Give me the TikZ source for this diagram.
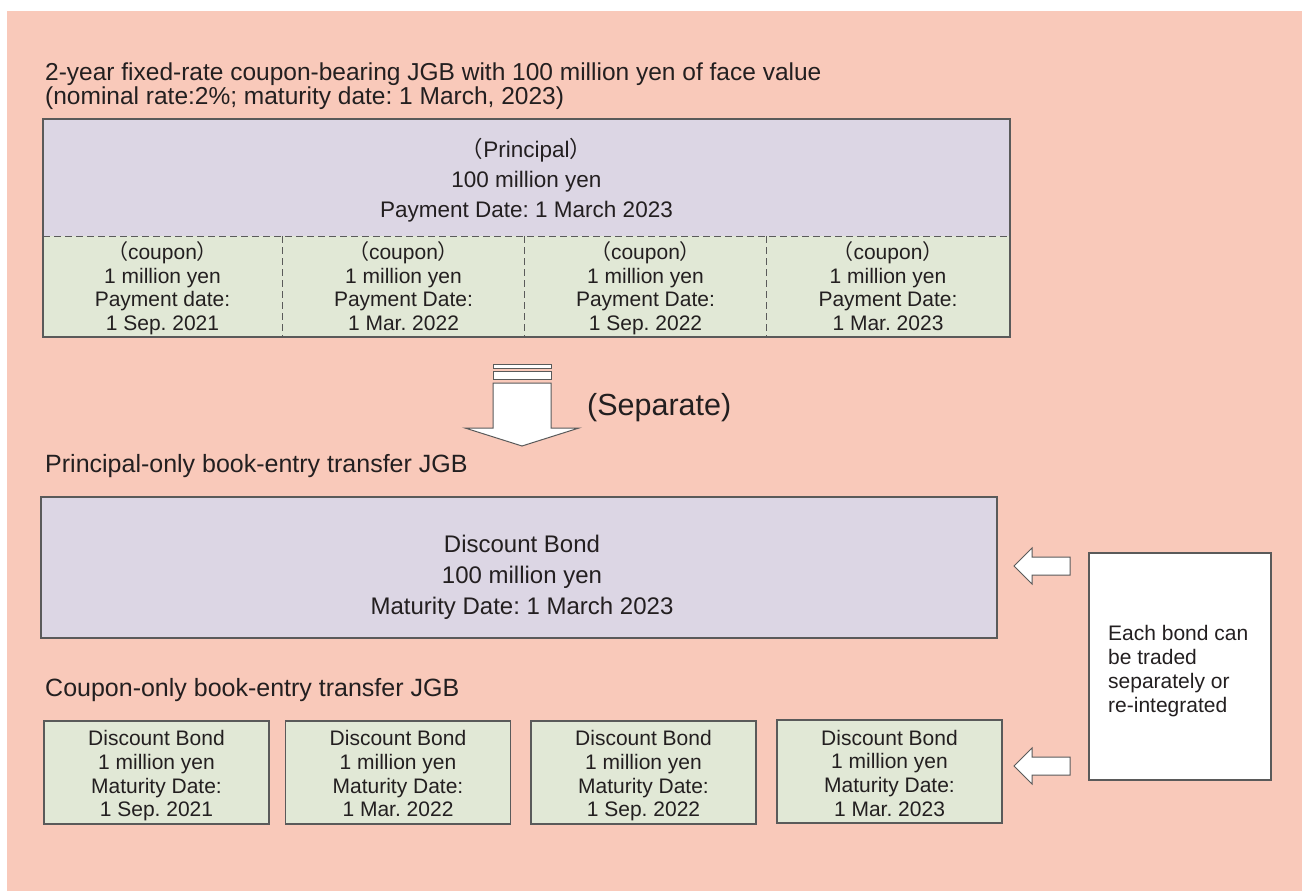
\documentclass[tikz,border=0pt]{standalone}
\usepackage{fontspec}
\setmainfont{Liberation Sans}
\newfontfamily\cjk{Noto Sans CJK JP}
\newcommand{\lpar}{{\cjk （}}
\newcommand{\rpar}{{\cjk ）}}
\definecolor{bgpink}{HTML}{F9C9BA}
\definecolor{prinfill}{HTML}{DCD6E4}
\definecolor{coupfill}{HTML}{E1E8D6}
\definecolor{edge}{HTML}{5A5A5A}
\definecolor{ink}{HTML}{231F20}
\tikzset{
  box/.style={draw=edge, line width=1.1pt, inner sep=0pt},
  cell/.style={inner sep=0pt, align=center, text=ink, font=\fontsize{21}{23.5}\selectfont},
  label/.style={anchor=west, inner sep=0pt, align=left, text=ink},
  blockarrow/.style={draw=edge, fill=white, line width=1pt, line join=miter},
  divider/.style={draw=edge, line width=0.9pt, dash pattern=on 7pt off 4pt}
}
\begin{document}
\frenchspacing
\begin{tikzpicture}[x=1pt,y=-1pt]
\useasboundingbox (0,0) rectangle (1302,891);
\fill[bgpink] (7,11) rectangle (1302,891);

% heading of the coupon-bearing bond
\node[label, font=\fontsize{24.5}{24.5}\selectfont] (title) at (45,86)
  {2-year fixed-rate coupon-bearing JGB with 100 million yen of face value\\
   (nominal rate:2\%; maturity date: 1 March, 2023)};

% principal part of the bond
\fill[prinfill] (43,119) rectangle (1010,236);
\node[cell, font=\fontsize{22.5}{30}\selectfont] (principal) at (526.5,181)
  {\strut\lpar Principal\rpar\\100 million yen\\Payment Date: 1 March 2023\strut};

% coupon parts of the bond
\fill[coupfill] (43,236) rectangle (1010,337);
\node[cell] (c1) at (162.5,289.5) {\strut\lpar coupon\rpar\\1 million yen\\Payment date:\\1 Sep. 2021\strut};
\node[cell] (c2) at (403.5,289.5) {\strut\lpar coupon\rpar\\1 million yen\\Payment Date:\\1 Mar. 2022\strut};
\node[cell] (c3) at (645.5,289.5) {\strut\lpar coupon\rpar\\1 million yen\\Payment Date:\\1 Sep. 2022\strut};
\node[cell] (c4) at (888,289.5) {\strut\lpar coupon\rpar\\1 million yen\\Payment Date:\\1 Mar. 2023\strut};
\draw[divider] (43,236) -- (1010,236);
\draw[divider] (282,236) -- (282,337);
\draw[divider] (524,236) -- (524,337);
\draw[divider] (766,236) -- (766,337);
\draw[draw=edge, line width=1.1pt] (43,119) rectangle (1010,337);

% separation arrow
\draw[blockarrow] (493,364) rectangle (551,368);
\draw[blockarrow] (493,371) rectangle (551,379);
\draw[blockarrow] (493,383) -- (551,383) -- (551,428) -- (579,428) -- (522,446)
  -- (465,428) -- (493,428) -- cycle;
\node[label, font=\fontsize{30.5}{32}\selectfont] (sep) at (587,408) {(Separate)};

% principal-only strip
\node[label, font=\fontsize{25}{25}\selectfont] (phead) at (45,466)
  {Principal-only book-entry transfer JGB};
\node[box, fill=prinfill, minimum width=956pt, minimum height=141pt] (pbond) at (519,567.5) {};
\node[cell, font=\fontsize{24}{31}\selectfont] (pbondtext) at (522,577)
  {\strut Discount Bond\\100 million yen\\Maturity Date: 1 March 2023\strut};

% coupon-only strips
\node[label, font=\fontsize{25}{25}\selectfont] (chead) at (45,690)
  {Coupon-only book-entry transfer JGB};
\tikzset{strip/.style={box, fill=coupfill, minimum width=225pt, minimum height=103pt},
  striptext/.style={cell, font=\fontsize{21}{23.7}\selectfont}}
\node[strip] (s1) at (156.5,772.5) {};
\node[strip] (s2) at (398,772.5) {};
\node[strip] (s3) at (643.5,772.5) {};
\node[strip] (s4) at (889.5,771.5) {};
\node[striptext] (s1t) at (156.5,776.5) {\strut Discount Bond\\1 million yen\\Maturity Date:\\1 Sep. 2021\strut};
\node[striptext] (s2t) at (398,776.5) {\strut Discount Bond\\1 million yen\\Maturity Date:\\1 Mar. 2022\strut};
\node[striptext] (s3t) at (643.5,776.5) {\strut Discount Bond\\1 million yen\\Maturity Date:\\1 Sep. 2022\strut};
\node[striptext] (s4t) at (889.5,776) {\strut Discount Bond\\1 million yen\\Maturity Date:\\1 Mar. 2023\strut};

% note on trading
\node[box, fill=white, minimum width=182pt, minimum height=227pt] (note) at (1180,666.5) {};
\node[label, font=\fontsize{21}{24}\selectfont] (notetext) at (1108,671.5)
  {\strut Each bond can\\be traded\\separately or\\re-integrated\strut};

% arrows pointing back to the strips
\draw[blockarrow] (1014,566) -- (1032,548) -- (1032,557) -- (1070,557) -- (1070,575)
  -- (1032,575) -- (1032,584) -- cycle;
\draw[blockarrow] (1014,766) -- (1032,748) -- (1032,757) -- (1070,757) -- (1070,775)
  -- (1032,775) -- (1032,784) -- cycle;
\end{tikzpicture}
\end{document}
